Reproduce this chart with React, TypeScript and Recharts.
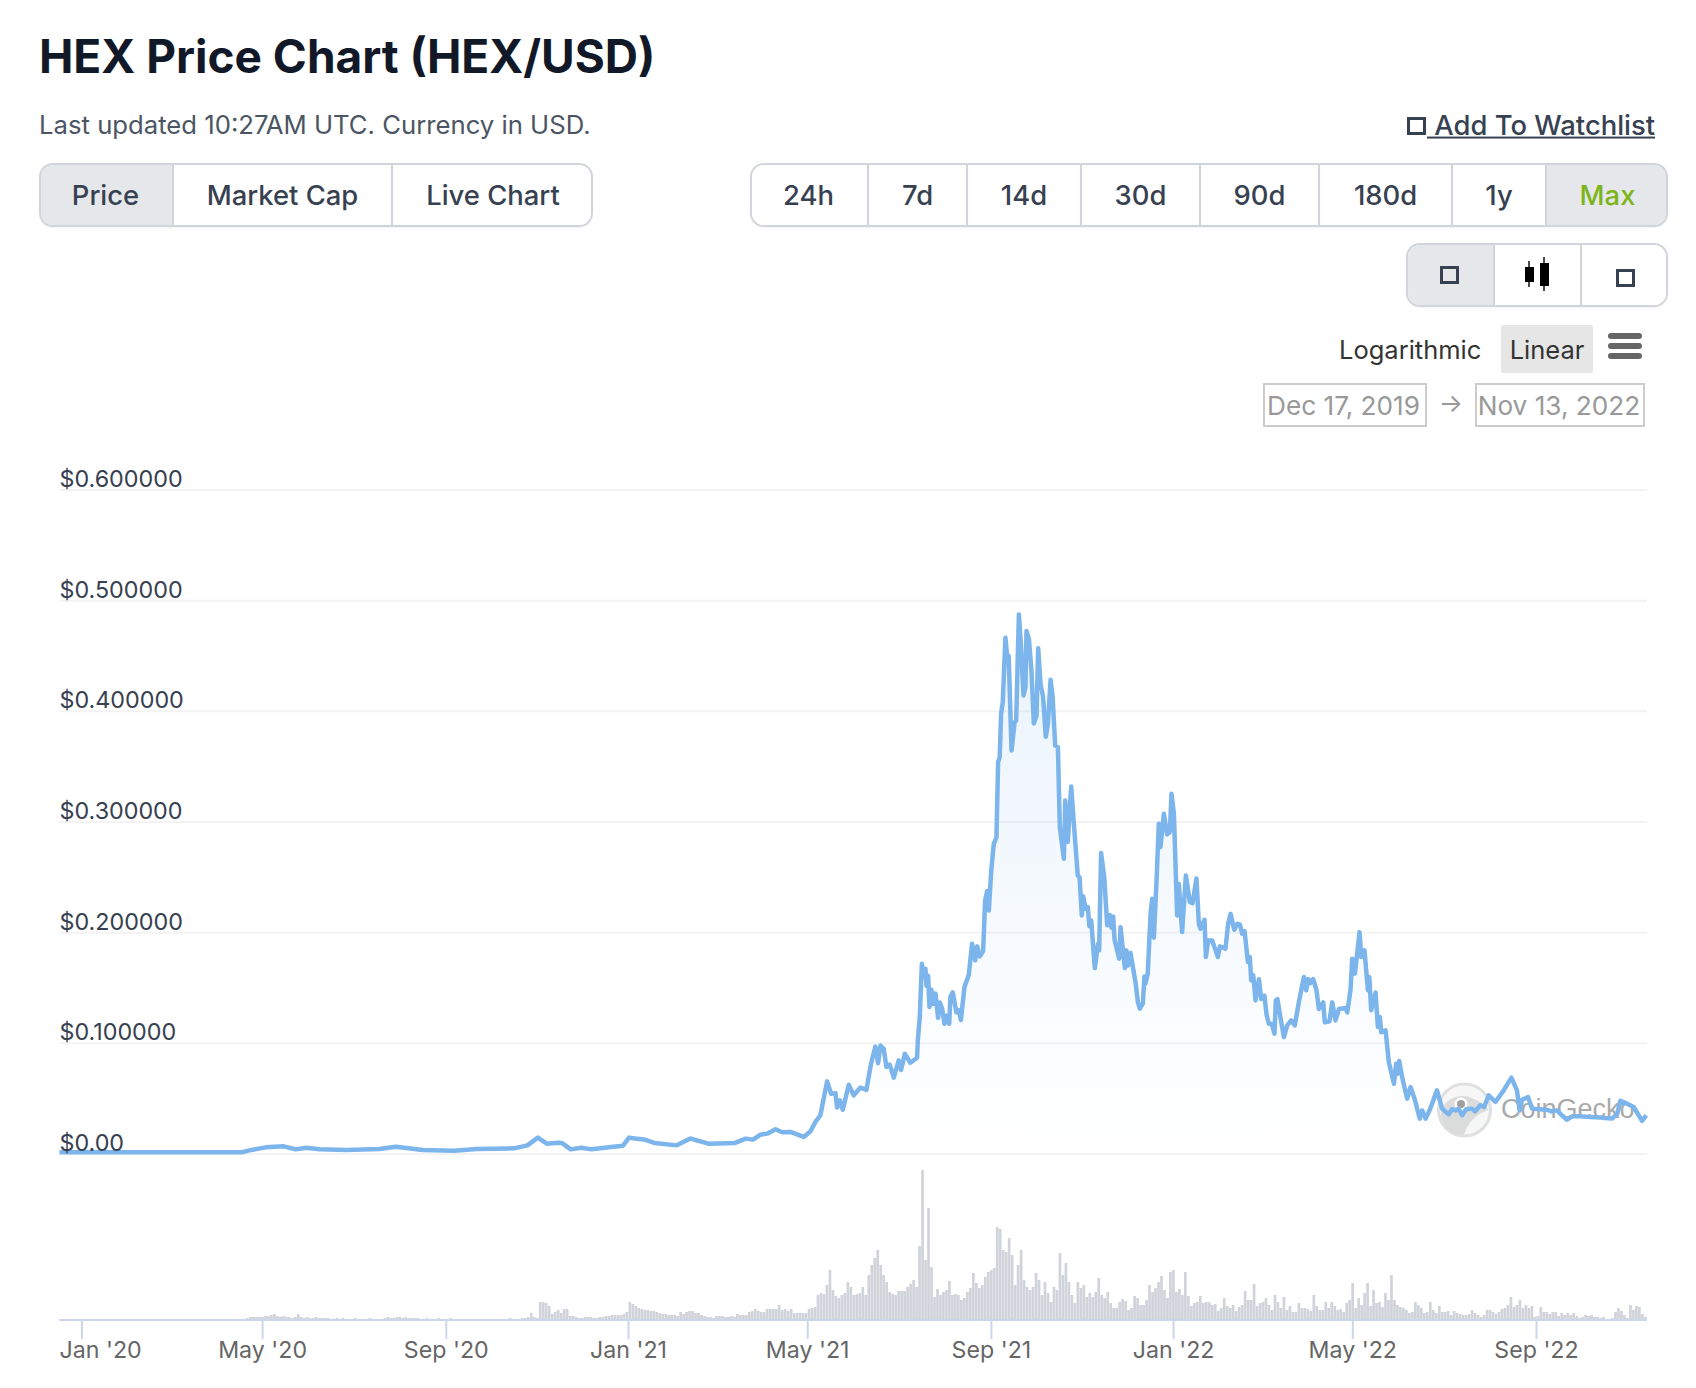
import { Area, AreaChart, Bar, BarChart, CartesianGrid, XAxis, YAxis } from "recharts";

// days counted from Jan 1 2020
const priceDays = [
  -14, 60, 108, 113, 124, 136, 144, 151, 160, 178, 200, 211, 229, 250, 265, 290, 299, 306, 312, 319,
  322, 328, 335, 342, 355, 363, 367, 371, 377, 384, 399, 408, 420, 438, 445, 450,
  454.9, 459.4, 465, 469.4, 475, 483.9, 488.4, 491.7, 495, 499.5, 502.2, 505.1, 506.2, 508, 510, 514,
  517.3, 521.8, 525.8, 528.9, 531.8, 533.6, 535.2, 537.4, 539.2, 541.4, 544.1, 547.4, 549, 551.5, 555.2, 559.7,
  560.2, 561.5, 562.9, 564.2, 565.3, 566, 567.1, 568, 569.3, 570.5, 572, 573.8, 574.9, 576.5, 578, 579.4,
  581.2, 582, 583.6, 586, 587.6, 589, 591.4, 594.3, 596.5, 598.6, 599.9, 601.7, 603.9, 605.2, 606.6, 607.7,
  609.3, 611, 612.8, 613.9, 615, 615.9, 617, 618.8, 620, 621, 622.9, 624.9, 626, 627.8, 629.3, 630.9,
  632.2, 632.9, 634.5, 636.2, 637.8, 639.6, 640.7, 642.3, 644, 645.8, 647.2, 649, 650.3, 652.1, 653.9, 655.2,
  657.9, 658.8, 660.5, 662.8, 664.6, 667.2, 668.4, 669.9, 670.8, 672.4, 673.9, 675, 676.2, 678.6, 680.8, 681.5,
  682.8, 685, 686.9, 688.6, 689.8, 690.9, 691.8, 694.9, 695.8, 698.7, 699.8, 700.9, 702.5, 705.8, 707.4, 708.7,
  710.7, 711.8, 712.5, 714, 715.9, 717, 718.1, 719.9, 721.4, 722.5, 724.8, 727, 728.8, 729.9, 731.5, 733.7,
  734.8, 737, 739.5, 742.2, 744, 746.6, 748.2, 749.3, 752, 752.9, 754.5, 757.1, 759.4, 760.9, 762.3, 766,
  767.8, 769.4, 771.9, 773.9, 775.6, 777.2, 778.8, 781, 782.3, 783.2, 784.6, 786.1, 788.4, 789.9, 792.1, 793.5,
  795, 797, 798.8, 799.7, 800.8, 802.2, 805.1, 807.3, 810, 812.4, 815.1, 818.5, 820, 821.4, 822.9, 824.7,
  826.9, 828.5, 831.4, 832.5, 835.6, 837.4, 839.6, 841.9, 846.3, 847.5, 849.7, 850.8, 852.6, 855.7, 856.8, 859,
  861.3, 862.2, 863.5, 866.4, 868, 869.3, 870.2, 873.1, 875.3, 878.7, 880.2, 881.3, 882.2, 884.9, 887.6, 889.8,
  892.5, 896, 897.6, 899.9, 903, 907.5, 910.9, 915.3, 917.5, 919.8, 922, 924.3, 927, 930.9, 933, 936.5, 939, 942.1, 946.6, 952.1, 957.3,
  961, 962.8, 964.4, 968.4, 971.1, 976, 981.1, 984, 987.8, 991, 994.5, 998, 1003.4, 1010, 1016.8, 1020, 1024.6, 1028, 1030.2, 1034.6, 1039.1, 1044.7, 1047.5,
];

const priceValues = [
  0.0015, 0.0015, 0.0016, 0.0033, 0.006, 0.0069, 0.0042, 0.0057, 0.0042, 0.0036, 0.0045, 0.0066, 0.0036, 0.003, 0.0045, 0.0051, 0.0078, 0.0148, 0.0093, 0.0102,
  0.01, 0.0042, 0.0057, 0.0042, 0.0063, 0.0075, 0.0148, 0.014, 0.0132, 0.01, 0.0078, 0.014, 0.0093, 0.01, 0.0139, 0.013,
  0.0175, 0.0184, 0.0223, 0.0196, 0.0199, 0.0154, 0.0205, 0.029, 0.035, 0.0656, 0.0545, 0.055, 0.042, 0.0485, 0.04, 0.0626,
  0.053, 0.06, 0.058, 0.0816, 0.097, 0.082, 0.098, 0.095, 0.0786, 0.0807, 0.069, 0.0846, 0.076, 0.0906, 0.0825, 0.087,
  0.1027, 0.1238, 0.172, 0.16, 0.1674, 0.152, 0.161, 0.1328, 0.1485, 0.1358, 0.145, 0.123, 0.137, 0.131, 0.1177, 0.125,
  0.1177, 0.142, 0.146, 0.128, 0.13, 0.121, 0.151, 0.162, 0.19, 0.175, 0.1876, 0.1786, 0.1834, 0.229, 0.2376, 0.22,
  0.256, 0.28, 0.286, 0.354, 0.3586, 0.398, 0.408, 0.4665, 0.449, 0.45, 0.3647, 0.39, 0.3917, 0.4875, 0.458, 0.4143,
  0.4218, 0.4725, 0.4655, 0.437, 0.389, 0.396, 0.457, 0.425, 0.413, 0.377, 0.3887, 0.4285, 0.4143, 0.369, 0.3677, 0.295,
  0.2668, 0.3195, 0.282, 0.332, 0.298, 0.2517, 0.25, 0.2156, 0.2328, 0.2216, 0.223, 0.2057, 0.211, 0.168, 0.19, 0.184,
  0.272, 0.2487, 0.2066, 0.216, 0.2045, 0.2147, 0.1936, 0.1765, 0.205, 0.168, 0.184, 0.1704, 0.1816, 0.1554, 0.1373, 0.1313,
  0.1358, 0.1605, 0.154, 0.163, 0.217, 0.2307, 0.1954, 0.247, 0.2984, 0.2773, 0.3074, 0.2888, 0.291, 0.3255, 0.3074, 0.2156,
  0.244, 0.2005, 0.2517, 0.2276, 0.2267, 0.249, 0.208, 0.2035, 0.2117, 0.178, 0.193, 0.193, 0.184, 0.178, 0.1876, 0.1855,
  0.208, 0.217, 0.2026, 0.208, 0.2075, 0.199, 0.2014, 0.1734, 0.178, 0.157, 0.1614, 0.1388, 0.158, 0.14, 0.143, 0.126,
  0.1177, 0.1177, 0.1087, 0.1388, 0.14, 0.128, 0.1057, 0.1162, 0.1207, 0.1162, 0.1373, 0.16, 0.148, 0.158, 0.1545, 0.158,
  0.148, 0.131, 0.137, 0.119, 0.12, 0.137, 0.1207, 0.131, 0.132, 0.128, 0.149, 0.1765, 0.163, 0.2005, 0.178, 0.184,
  0.148, 0.16, 0.13, 0.146, 0.1147, 0.1238, 0.11, 0.1117, 0.083, 0.0635, 0.0816, 0.0726, 0.084, 0.065, 0.05, 0.0605,
  0.05, 0.032, 0.0394, 0.032, 0.041, 0.0575, 0.041, 0.0358, 0.0405, 0.0394, 0.041, 0.035, 0.0405, 0.041, 0.0385, 0.044, 0.0425, 0.053, 0.047, 0.0575, 0.069,
  0.0575, 0.0394, 0.049, 0.0515, 0.041, 0.0405, 0.04, 0.0385, 0.0394, 0.035, 0.031, 0.034, 0.034, 0.0335, 0.033, 0.0325, 0.032, 0.036, 0.048, 0.0455, 0.0425, 0.03, 0.035,
];

// one reading every second day, from Dec 17 2019
const volumeValues = [
  0.3, 0.3, 0.3, 0.3, 0.3, 0.3, 0.3, 0.3, 0.3, 0.3, 0.3, 0.3, 0.3, 0.3, 0.3, 0.3, 0.3, 0.3, 0.3, 0.3,
  0.3, 0.3, 0.3, 0.3, 0.3, 0.3, 0.3, 0.3, 0.5, 0.5, 0.3, 0.5, 0.3, 0.3, 0.3, 0.5, 0.3, 0.3, 0.3, 0.3,
  0.3, 0.3, 0.3, 0.3, 0.3, 0.3, 0.3, 0.3, 0.3, 0.5, 0.3, 0.3, 0.3, 0.3, 0.3, 0.5, 0.3, 0.5, 0.5, 0.5, 0.5, 0.5,
  1, 2, 3, 3, 3, 3, 3, 4, 4, 5, 6, 4, 3, 4, 3, 3, 2, 3, 6, 3,
  2, 3, 2, 2, 3, 2, 2, 2, 2, 1, 1, 2, 1, 2, 1, 1, 1, 2, 1, 1,
  1, 1, 2, 1, 1, 1, 1, 2, 3, 2, 2, 3, 3, 2, 3, 2, 2, 2, 2, 1,
  1, 2, 1, 1, 1, 2, 1, 1, 1, 2, 1, 1, 1, 1, 1, 1, 1, 1, 1, 1,
  1, 1, 1, 1, 1, 1, 1, 1, 1, 2, 1, 1, 1, 2, 2, 3, 7, 3, 2, 18,
  18, 17, 14, 6, 8, 10, 7, 11, 11, 4, 4, 3, 2, 2, 3, 3, 3, 2, 2, 3,
  3, 4, 4, 5, 5, 5, 5, 6, 8, 18, 16, 14, 12, 11, 10, 10, 9, 9, 8, 7,
  6, 6, 5, 5, 5, 4, 8, 6, 8, 9, 9, 7, 7, 5, 4, 3, 3, 2, 4, 4,
  4, 3, 3, 4, 3, 6, 5, 5, 5, 8, 9, 11, 9, 8, 8, 11, 11, 11, 11, 15,
  10, 11, 9, 11, 7, 7, 7, 7, 7, 11, 12, 13, 25, 27, 26, 35, 50, 30, 24, 22,
  25, 27, 38, 33, 25, 26, 27, 33, 25, 45, 55, 62, 70, 55, 45, 38, 28, 26, 25, 29,
  29, 29, 33, 36, 40, 33, 74, 150, 60, 112, 53, 23, 31, 25, 28, 30, 39, 25, 26, 25, 20,
  22, 28, 32, 47, 37, 32, 35, 43, 48, 50, 52, 93, 91, 70, 68, 82, 65, 35, 55, 70,
  40, 33, 30, 33, 47, 40, 25, 38, 27, 18, 33, 30, 67, 45, 57, 38, 25, 17, 38, 32,
  35, 23, 27, 23, 28, 42, 25, 22, 28, 17, 12, 12, 18, 21, 19, 10, 12, 24, 22, 15,
  15, 20, 35, 28, 32, 38, 44, 30, 22, 48, 50, 28, 31, 25, 48, 24, 14, 17, 18, 24,
  17, 18, 18, 15, 16, 9, 12, 22, 14, 12, 15, 9, 13, 15, 29, 20, 20, 36, 14, 17,
  18, 22, 15, 10, 25, 18, 12, 23, 10, 14, 8, 8, 17, 12, 12, 11, 9, 25, 14, 10,
  10, 18, 12, 18, 14, 10, 11, 8, 17, 20, 37, 12, 22, 15, 27, 37, 14, 30, 17, 18,
  13, 27, 20, 45, 20, 15, 13, 12, 10, 7, 8, 18, 15, 12, 7, 8, 18, 10, 7, 14,
  8, 8, 9, 5, 9, 7, 6, 5, 5, 6, 10, 7, 5, 3, 5, 10, 10, 8, 6, 8,
  11, 12, 15, 23, 13, 15, 20, 12, 15, 12, 14, 3, 4, 13, 8, 8, 6, 8, 8, 4,
  7, 5, 7, 5, 7, 4, 2, 3, 5, 4, 5, 3, 3, 2, 3, 1, 1, 2, 8, 12,
  9, 5, 2, 15, 10, 14, 13, 6, 3,
];

const yTicks = [0, 0.1, 0.2, 0.3, 0.4, 0.5, 0.6];
const xTicks = [0, 121, 244, 366, 486, 609, 731, 851, 974];
const xLabels = ["Jan '20", "May '20", "Sep '20", "Jan '21", "May '21", "Sep '21", "Jan '22", "May '22", "Sep '22"];

const metricTabs = ["Price", "Market Cap", "Live Chart"];
const rangeTabs = ["24h", "7d", "14d", "30d", "90d", "180d", "1y", "Max"];

const priceData = priceDays.map((day, i) => ({ day, price: priceValues[i] }));
const volumeData = volumeValues.map((volume, i) => ({ day: -15 + i * 2, volume }));

const FONT = "Inter, sans-serif";
const WIDTH = 1696;
const PLOT_LEFT = 59.5;
const PLOT_RIGHT = 49;
const X_DOMAIN = [-14, 1048];

function Txt({ x, y, size, color, weight = 400, anchor = "left", children, underline = false }: any) {
  const shift = anchor === "middle" ? "-50%" : "0";
  return (
    <div
      style={{
        position: "absolute",
        left: x,
        top: y,
        transform: `translate(${shift}, -50%)`,
        fontFamily: FONT,
        fontSize: size,
        fontWeight: weight,
        color,
        whiteSpace: "pre",
        lineHeight: 1.2,
        textDecoration: underline ? "underline" : "none",
      }}
    >
      {children}
    </div>
  );
}

// row of joined buttons, edges are the x of each border
function Tabs({ labels, edges, top, height, active, activeColor }: any) {
  return (
    <div
      style={{
        position: "absolute",
        left: edges[0],
        top,
        width: edges[edges.length - 1] - edges[0],
        height,
        boxSizing: "border-box",
        border: "2px solid #d1d5db",
        borderRadius: 14,
        boxShadow: "0 1px 2px rgba(0,0,0,0.05)",
        overflow: "hidden",
        background: "#fff",
      }}
    >
      {labels.map((label: any, i: number) => (
        <div
          key={i}
          style={{
            position: "absolute",
            left: edges[i] - edges[0] - 2,
            top: 0,
            bottom: 0,
            width: edges[i + 1] - edges[i],
            boxSizing: "border-box",
            borderLeft: i === 0 ? "none" : "2px solid #d1d5db",
            background: i === active ? "#e5e7eb" : "#fff",
            display: "flex",
            alignItems: "center",
            justifyContent: "center",
            fontFamily: FONT,
            fontSize: 27.4,
            fontWeight: 500,
            color: i === active && activeColor ? activeColor : "#374151",
          }}
        >
          {label}
        </div>
      ))}
    </div>
  );
}

function MissingIcon() {
  return <div style={{ width: 19, height: 18, boxSizing: "border-box", border: "3px solid #374151" }} />;
}

function CandleIcon() {
  return (
    <svg width={28} height={36} style={{ display: "block" }}>
      <line x1={5} x2={5} y1={4} y2={30} stroke="#111" strokeWidth={1.5} />
      <rect x={1} y={10} width={9} height={15} fill="#000" />
      <line x1={20} x2={20} y1={0} y2={34} stroke="#111" strokeWidth={1.5} />
      <rect x={16} y={6} width={9} height={23} fill="#000" />
    </svg>
  );
}

function YTick({ y, payload }: any) {
  const label = payload.value === 0 ? "$0.00" : `$${payload.value.toFixed(6)}`;
  return (
    <text x={PLOT_LEFT} y={y - 3} fontFamily={FONT} fontSize={23.3} fill="#374151">
      {label}
    </text>
  );
}

function XTick({ x, y, payload, index }: any) {
  const first = index === 0;
  return (
    <text x={first ? PLOT_LEFT : x} y={y + 19} textAnchor={first ? "start" : "middle"} fontFamily={FONT} fontSize={23.2} fill="#666666">
      {xLabels[xTicks.indexOf(payload.value)]}
    </text>
  );
}

function Watermark() {
  return (
    <svg width={WIDTH} height={1388} style={{ position: "absolute", left: 0, top: 0 }}>
      <circle cx={1464.5} cy={1110} r={26} fill="#f7f7f7" stroke="#e0e0e0" strokeWidth={3} />
      <path d="M1441 1112 C1444 1098 1462 1092 1474 1099 C1484 1103 1488 1108 1488 1110 C1476 1114 1468 1122 1464 1135 C1448 1134 1440 1124 1441 1112 Z" fill="#dcdcdc" />
      <circle cx={1461} cy={1104} r={6.5} fill="#ffffff" />
      <circle cx={1461} cy={1104} r={4} fill="#a0a0a0" />
      <text x={1501} y={1118} fontFamily="Liberation Sans, sans-serif" fontSize={27} fill="#aaaaaa">
        CoinGecko
      </text>
    </svg>
  );
}

export default function App() {
  return (
    <div style={{ position: "absolute", left: 0, top: 0, width: WIDTH, height: 1388, background: "#fff", overflow: "hidden" }}>
      <Txt x={39} y={57} size={46} weight={700} color="#111827">HEX Price Chart (HEX/USD)</Txt>
      <Txt x={39} y={125} size={25.7} color="#4b5563">Last updated 10:27AM UTC. Currency in USD.</Txt>

      <div style={{ position: "absolute", left: 1407, top: 117 }}><MissingIcon /></div>
      <Txt x={1427} y={125} size={27.4} weight={500} color="#374151" underline> Add To Watchlist</Txt>

      <Tabs labels={metricTabs} edges={[39, 172, 391, 593]} top={163} height={64} active={0} />
      <Tabs labels={rangeTabs} edges={[750, 867, 966, 1080, 1199, 1318, 1451, 1545, 1668]} top={163} height={64} active={7} activeColor="#7cb518" />
      <Tabs
        labels={[<MissingIcon />, <CandleIcon />, <div style={{ marginTop: 6 }}><MissingIcon /></div>]}
        edges={[1406, 1493, 1580, 1668]}
        top={243}
        height={64}
        active={0}
      />

      <Txt x={1339} y={350} size={25.5} color="#333333">Logarithmic</Txt>
      <div style={{ position: "absolute", left: 1501, top: 325, width: 92, height: 48, background: "#e6e6e6", borderRadius: 2 }} />
      <Txt x={1547} y={350} size={25.5} color="#333333" anchor="middle">Linear</Txt>
      {[333, 343, 353].map((top) => (
        <div key={top} style={{ position: "absolute", left: 1608, top, width: 34, height: 6, borderRadius: 3, background: "#666666" }} />
      ))}

      <div style={{ position: "absolute", left: 1263, top: 383, width: 164, height: 44, boxSizing: "border-box", border: "2px solid #cccccc" }} />
      <Txt x={1343.5} y={406} size={26.2} color="#999999" anchor="middle">Dec 17, 2019</Txt>
      <Txt x={1451} y={403} size={25.5} color="#999999" anchor="middle">→</Txt>
      <div style={{ position: "absolute", left: 1475, top: 383, width: 170, height: 44, boxSizing: "border-box", border: "2px solid #cccccc" }} />
      <Txt x={1559} y={406} size={26.2} color="#999999" anchor="middle">Nov 13, 2022</Txt>

      <Watermark />

      <div style={{ position: "absolute", left: 0, top: 440 }}>
        <AreaChart width={WIDTH} height={730} data={priceData} margin={{ top: 50, right: PLOT_RIGHT, bottom: 16, left: PLOT_LEFT - 1 }}>
          <defs>
            <linearGradient id="priceFill" x1="0" y1="0" x2="0" y2="1">
              <stop offset="0%" stopColor="#7cb5ec" stopOpacity={0.16} />
              <stop offset="100%" stopColor="#7cb5ec" stopOpacity={0} />
            </linearGradient>
          </defs>
          <CartesianGrid vertical={false} stroke="#f3f3f3" strokeWidth={2} />
          <XAxis dataKey="day" type="number" domain={X_DOMAIN} hide />
          <YAxis type="number" domain={[0, 0.6]} ticks={yTicks} width={1} axisLine={false} tickLine={false} tick={<YTick />} interval={0} />
          <Area
            type="linear"
            dataKey="price"
            stroke="#7cb5ec"
            strokeWidth={4.5}
            strokeLinejoin="round"
            fill="url(#priceFill)"
            fillOpacity={1}
            dot={false}
            activeDot={false}
            isAnimationActive={false}
          />
        </AreaChart>
      </div>

      <div style={{ position: "absolute", left: 0, top: 1160 }}>
        <BarChart width={WIDTH} height={228} data={volumeData} margin={{ top: 8, right: PLOT_RIGHT, bottom: 0, left: PLOT_LEFT }}>
          <XAxis
            dataKey="day"
            type="number"
            domain={X_DOMAIN}
            ticks={xTicks}
            interval={0}
            height={68}
            tickSize={19}
            tickMargin={0}
            stroke="#ccd6eb"
            strokeWidth={2}
            tick={<XTick />}
          />
          <YAxis type="number" domain={[0, 152]} hide />
          <Bar dataKey="volume" fill="#d0d3da" barSize={3} isAnimationActive={false} />
        </BarChart>
      </div>
    </div>
  );
}
